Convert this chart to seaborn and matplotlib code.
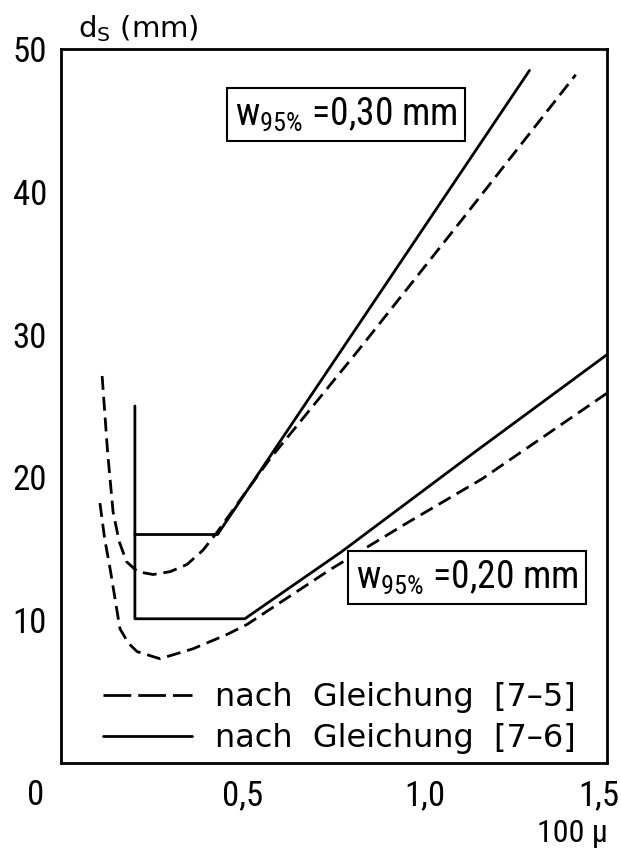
import matplotlib
matplotlib.use("Agg")
import matplotlib.pyplot as plt
import seaborn as sns
from matplotlib import font_manager as fm
from matplotlib.lines import Line2D
from matplotlib.transforms import ScaledTranslation

# ---------------- data ----------------
# eq. [7-5], w95% = 0,30 mm (dashed)
x_d30 = [0.113, 0.128, 0.143, 0.160, 0.180, 0.210, 0.253, 0.300, 0.346, 0.390,
         0.430, 0.500, 0.574, 0.820, 1.100, 1.414]
y_d30 = [27.1, 21.8, 17.6, 15.5, 14.1, 13.4, 13.2, 13.4, 13.9, 14.9,
         16.2, 18.7, 21.3, 29.0, 38.0, 48.2]
# eq. [7-6], w95% = 0,30 mm (solid)
x_s30 = [0.203, 0.430, 1.287]
y_s30 = [16.0, 16.0, 48.5]
# eq. [7-5], w95% = 0,20 mm (dashed)
x_d20 = [0.107, 0.120, 0.135, 0.162, 0.185, 0.209, 0.272, 0.363, 0.456, 0.511,
         0.600, 0.743, 0.950, 1.157, 1.500]
y_d20 = [18.2, 15.7, 13.6, 9.4, 8.4, 7.8, 7.3, 8.0, 9.0, 9.7,
         11.2, 13.6, 16.8, 19.9, 25.9]
# eq. [7-6], w95% = 0,20 mm (solid, incl. vertical limit line)
x_s20 = [0.203, 0.203, 0.505, 0.771, 1.138, 1.500]
y_s20 = [25.0, 10.1, 10.1, 14.8, 21.8, 28.6]

xticks = [0.5, 1.0, 1.5]
xticklabels = ["0,5", "1,0", "1,5"]
yticks = [10, 20, 30, 40, 50]
yticklabels = ["10", "20", "30", "40", "50"]
legend_labels = ["nach  Gleichung  [7–5]", "nach  Gleichung  [7–6]"]
box_labels = [r"w$_{95\%}$ =0,30 mm", r"w$_{95\%}$ =0,20 mm"]


# ---------------- fonts ----------------
def pick_narrow():
    ttf = fm.fontManager.ttflist
    for n in ["Liberation Sans Narrow", "Roboto Condensed", "Noto Sans Condensed",
              "Open Sans Condensed", "DejaVu Sans Condensed"]:
        if any(f.name == n for f in ttf):
            return n, "normal", True
    for fam in ["DejaVu Sans", "Noto Sans", "Open Sans", "Roboto"]:
        if any(f.name == fam and str(f.stretch) in ("condensed", "semi-condensed", "75", "87.5")
               and f.style == "normal" for f in ttf):
            return fam, "condensed", True
    return "DejaVu Sans", "normal", False


NFAM, NSTRETCH, HAVE_NARROW = pick_narrow()
NUM_SIZE = 25 if HAVE_NARROW else 21


def nprop(size):
    return fm.FontProperties(family=NFAM, stretch=NSTRETCH, size=size)


sns.set_theme(style="white")
plt.rcParams["font.family"] = ["DejaVu Sans"]
plt.rcParams["mathtext.fontset"] = "dejavusans"
plt.rcParams["mathtext.default"] = "regular"
for k in ["text.color", "axes.labelcolor", "xtick.color", "ytick.color", "axes.edgecolor"]:
    plt.rcParams[k] = "black"

fig = plt.figure(figsize=(6.21, 8.57), dpi=100)
ax = fig.add_axes([0.0982, 0.1097, 0.8793, 0.8331])

LW = 2.0
dash = (0, (5, 2.5))
for xs, ys, ls in [(x_d30, y_d30, dash), (x_s30, y_s30, "-"),
                   (x_d20, y_d20, dash), (x_s20, y_s20, "-")]:
    sns.lineplot(x=xs, y=ys, ax=ax, sort=False, estimator=None,
                 color="black", linewidth=LW, linestyle=ls)

ax.set_xlim(0, 1.5)
ax.set_ylim(0, 50)
ax.set_xticks(xticks)
ax.set_xticklabels(xticklabels)
ax.set_yticks(yticks)
ax.set_yticklabels(yticklabels)
ax.tick_params(direction="in", length=6, width=1.4, colors="black")
ax.tick_params(axis="x", pad=12)
ax.tick_params(axis="y", pad=10)
for lbl in ax.get_xticklabels() + ax.get_yticklabels():
    lbl.set_fontproperties(nprop(NUM_SIZE))
# last x label sits slightly left of its tick (as in the reference)
last = ax.get_xticklabels()[-1]
last.set_transform(last.get_transform() + ScaledTranslation(-6 / 72, 0, fig.dpi_scale_trans))
ax.set_xlabel("")
ax.set_ylabel("")
for s in ax.spines.values():
    s.set_color("black")
    s.set_linewidth(2.0)

# annotation boxes
box_size = 27 if HAVE_NARROW else 22
ax.text(0.783, 45.4, box_labels[0], ha="center", va="center",
        fontproperties=nprop(box_size),
        bbox=dict(boxstyle="square,pad=0.2", fc="white", ec="black", lw=1.5))
ax.text(1.115, 13.0, box_labels[1], ha="center", va="center",
        fontproperties=nprop(box_size),
        bbox=dict(boxstyle="square,pad=0.2", fc="white", ec="black", lw=1.5))

# legend
handles = [Line2D([], [], color="black", lw=LW, linestyle=(0, (10, 2.5))),
           Line2D([], [], color="black", lw=LW, linestyle="-")]
ax.legend(handles, legend_labels, loc="lower left",
          bbox_to_anchor=(0.077, 0.013), frameon=False,
          borderpad=0, borderaxespad=0, handlelength=2.8,
          handletextpad=0.72, labelspacing=0.3,
          prop=dict(family="DejaVu Sans", size=23))

# axis texts
fig.text(0.058, 0.072, "0", ha="center", va="center", fontproperties=nprop(NUM_SIZE))
fig.text(0.126, 0.957, r"d$_S$ (mm)", ha="left", va="baseline", fontsize=21)
fig.text(0.921, 0.028, "100 µ", ha="center", va="center", fontproperties=nprop(23))

fig.savefig("out.png", dpi=100)
